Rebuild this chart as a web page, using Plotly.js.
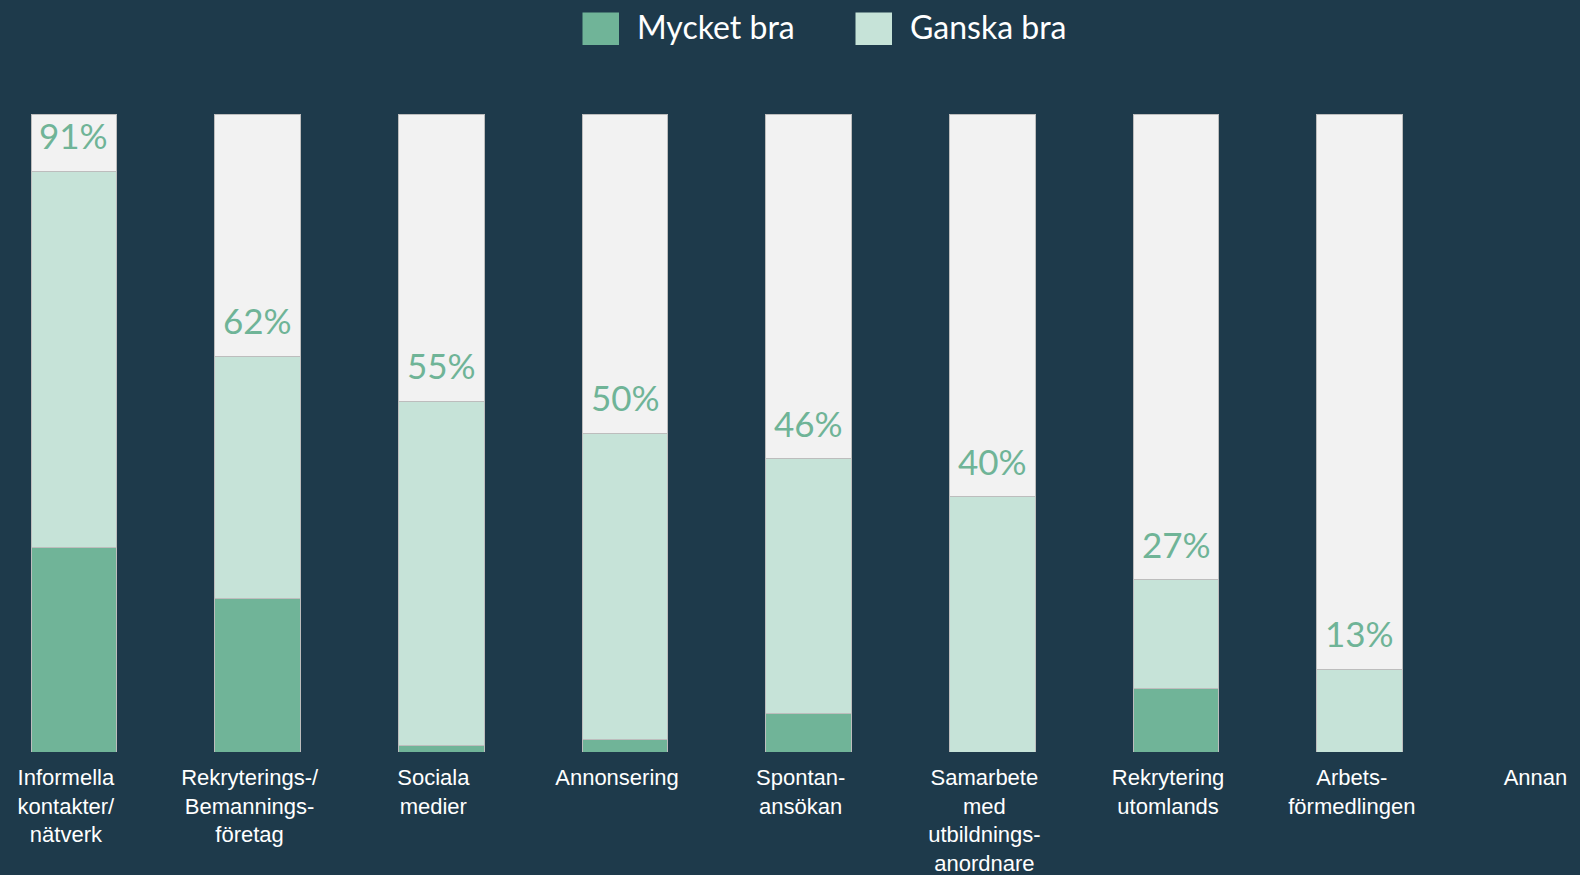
<!DOCTYPE html>
<html>
<head>
<meta charset="utf-8">
<script src="https://cdn.plot.ly/plotly-3.0.1.min.js"></script>
<style>
html,body{margin:0;padding:0;background:#1e3a4b;}
#chart{width:1580px;height:875px;}
</style>
</head>
<body>
<div id="chart"></div>
<script>
// ---- data ----
const categories = [
  "Informella<br>kontakter/<br>nätverk",
  "Rekryterings-/<br>Bemannings-<br>företag",
  "Sociala<br>medier",
  "Annonsering",
  "Spontan-<br>ansökan",
  "Samarbete<br>med<br>utbildnings-<br>anordnare",
  "Rekrytering<br>utomlands",
  "Arbets-<br>förmedlingen",
  "Annan"
];
const mycketBra = [32, 24, 1, 2, 6, 0, 10, 0, null];
const ganskaBra = [59, 38, 54, 48, 40, 40, 17, 13, null];
const totalLabels = ["91%", "62%", "55%", "50%", "46%", "40%", "27%", "13%", null];
const seriesNames = ["Mycket bra", "Ganska bra"];

// ---- styles ----
const bg = "#1e3a4b";
const cDark = "#70b498";
const cLight = "#c6e3d8";
const cRest = "#f2f2f2";
const edge = {color: "#bdbdbd", width: 1};

const totals = mycketBra.map((m, i) => (m === null ? null : m + ganskaBra[i]));
const rest = totals.map(t => (t === null ? null : 100 - t));

const traces = [
  {type: "bar", x: categories, y: mycketBra, name: seriesNames[0],
   marker: {color: cDark, line: edge}, hoverinfo: "y+name"},
  {type: "bar", x: categories, y: ganskaBra, name: seriesNames[1],
   marker: {color: cLight, line: edge}, hoverinfo: "y+name"},
  {type: "bar", x: categories, y: rest, name: "Övrigt", showlegend: false,
   marker: {color: cRest, line: edge}, hoverinfo: "skip"}
];

const annotations = [];
categories.forEach((c, i) => {
  if (totalLabels[i] === null) return;
  annotations.push({
    x: c, y: totals[i], xref: "x", yref: "y",
    text: totalLabels[i], showarrow: false,
    yanchor: "middle", yshift: 36,
    font: {family: "Lato, 'Open Sans', sans-serif", size: 35, color: "#6fb497"}
  });
});

// custom legend (large squares)
const plotTop = 114, plotBottom = 752;
const ph = plotBottom - plotTop;
function pyToPaper(py) { return (plotBottom - py) / ph; }
const shapes = [];
const legendX = [582.5, 855.5];
const legendColors = [cDark, cLight];
seriesNames.forEach((n, i) => {
  shapes.push({type: "rect", xref: "paper", yref: "paper",
    x0: legendX[i] / 1580, x1: (legendX[i] + 36.5) / 1580,
    y0: pyToPaper(45), y1: pyToPaper(12.5),
    fillcolor: legendColors[i], line: {width: 0}});
  annotations.push({
    xref: "paper", yref: "paper",
    x: (legendX[i] + 36.5 + 16) / 1580, y: pyToPaper(27),
    xanchor: "left", yanchor: "middle", showarrow: false,
    text: n,
    font: {family: "Lato, 'Open Sans', sans-serif", size: 32, color: "#ffffff"}
  });
});

const layout = {
  width: 1580, height: 875,
  paper_bgcolor: bg, plot_bgcolor: bg,
  barmode: "stack", bargap: 0.5335,
  showlegend: false,
  margin: {l: 0, r: 0, t: plotTop, b: 875 - plotBottom, pad: 0},
  xaxis: {
    type: "category", range: [-0.4023, 8.1987], fixedrange: true,
    showgrid: false, zeroline: false, showline: false, ticks: "",
    tickfont: {family: "Arial, 'Liberation Sans', sans-serif", size: 22, color: "#ffffff"},
    ticklabelstandoff: 10,
    ticklabelshift: -8
  },
  yaxis: {
    range: [0, 100], visible: false, showgrid: false, zeroline: false, fixedrange: true
  },
  shapes: shapes,
  annotations: annotations,
  font: {family: "Arial, 'Liberation Sans', sans-serif", color: "#ffffff"}
};

Plotly.newPlot("chart", traces, layout, {displayModeBar: false, staticPlot: true});
</script>
</body>
</html>
